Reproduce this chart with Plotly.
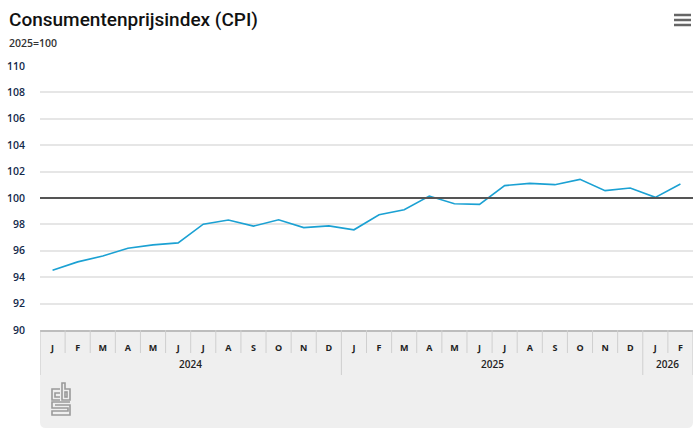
import plotly.graph_objects as go
import base64

# ---- data ----
months = ["J", "F", "M", "A", "M", "J", "J", "A", "S", "O", "N", "D",
          "J", "F", "M", "A", "M", "J", "J", "A", "S", "O", "N", "D",
          "J", "F"]
years = ["2024"] * 12 + ["2025"] * 12 + ["2026"] * 2
cpi = [94.52, 95.16, 95.61, 96.20, 96.45, 96.60, 98.02, 98.33, 97.87, 98.35, 97.76, 97.89,
       97.59, 98.73, 99.11, 100.15, 99.57, 99.52, 100.94, 101.11, 101.01, 101.41, 100.56, 100.76,
       100.05, 101.06]
y_ticks = [90, 92, 94, 96, 98, 100, 102, 104, 106, 108, 110]
base_value = 100

W, H = 695, 430
L, R, T, B = 40, 2, 66, 100
PW, PH = W - L - R, H - T - B


def px2x(px):
    return (px - L) / PW


def py2y(py):
    return (H - B - py) / PH


xs = list(range(len(cpi)))

fig = go.Figure()
fig.add_trace(go.Scatter(x=xs, y=cpi, mode="lines",
                         line=dict(color="#1ba1d3", width=1.6),
                         hoverinfo="skip", showlegend=False))

shapes = []
# gray box below the axis, rounded bottom corners
rx, ry = 6 / PW, 6 / PH
x0, x1, y0, y1 = 0, 1, 0, py2y(428)
path = (f"M {x0},{y0} L {x1},{y0} L {x1},{y1 + ry} Q {x1},{y1} {x1 - rx},{y1} "
        f"L {x0 + rx},{y1} Q {x0},{y1} {x0},{y1 + ry} Z")
shapes.append(dict(type="path", path=path, xref="paper", yref="paper",
                   fillcolor="#efefef", line=dict(width=0), layer="below"))
# month separators
for i in range(len(months) - 1):
    big = years[i] != years[i + 1]
    shapes.append(dict(type="line", xref="x", yref="paper", x0=i + 0.5, x1=i + 0.5,
                       y0=0, y1=py2y(375) if big else py2y(353),
                       line=dict(color="#cfcfcf", width=1)))
for xe in (-0.5, len(months) - 0.5):
    shapes.append(dict(type="line", xref="x", yref="paper", x0=xe, x1=xe,
                       y0=0, y1=py2y(375), line=dict(color="#c8c8c8", width=1)))
# baseline 100
shapes.append(dict(type="line", xref="paper", yref="y", x0=0, x1=1, y0=base_value, y1=base_value,
                   line=dict(color="#555555", width=2)))
# hamburger menu
for py in (15, 20, 25):
    shapes.append(dict(type="line", xref="paper", yref="paper", x0=px2x(674), x1=px2x(691),
                       y0=py2y(py), y1=py2y(py), line=dict(color="#666666", width=2.5)))

annotations = [
    dict(text="Consumentenprijsindex (CPI)", xref="paper", yref="paper",
         x=px2x(7), y=py2y(6), xanchor="left", yanchor="top", showarrow=False,
         font=dict(family="Roboto", size=19, color="#111111", weight=500)),
    dict(text="2025=100", xref="paper", yref="paper",
         x=px2x(7), y=py2y(34), xanchor="left", yanchor="top", showarrow=False,
         font=dict(family="Open Sans", size=10.5, color="#333333", weight=600)),
]
# year labels centered under their months
for yr in dict.fromkeys(years):
    idx = [i for i, v in enumerate(years) if v == yr]
    annotations.append(dict(text=yr, xref="x", yref="paper",
                            x=(idx[0] + idx[-1]) / 2, y=py2y(364), yanchor="middle",
                            showarrow=False,
                            font=dict(family="Open Sans", size=10, color="#222222", weight=600)))

# cbs logo as inline svg
svg = """<svg xmlns='http://www.w3.org/2000/svg' width='22' height='36' viewBox='0 0 22 36'>
<g fill='none' stroke='#9a9a9a' stroke-width='1.6'>
<path d='M10 8 H2 V19 H10'/><path d='M10 12 H5 V16 H10'/>
<path d='M12 2 V19 H20 V8 H15 V2 Z'/><rect x='15' y='11' width='2' height='5'/>
<path d='M20 21 H2 V27 H18 V30 H2 V34 H20 V24 H5'/>
</g></svg>"""
uri = "data:image/svg+xml;base64," + base64.b64encode(svg.encode()).decode()

fig.update_layout(
    width=W, height=H,
    margin=dict(l=L, r=R, t=T, b=B),
    paper_bgcolor="white", plot_bgcolor="white",
    shapes=shapes, annotations=annotations,
    images=[dict(source=uri, xref="paper", yref="paper", x=px2x(50), y=py2y(381),
                 sizex=22 / PW, sizey=36 / PH, xanchor="left", yanchor="top",
                 sizing="contain", layer="above")],
    xaxis=dict(range=[-0.5, len(months) - 0.5], tickmode="array", tickvals=xs, ticktext=months,
               showgrid=False, zeroline=False, showline=True, linecolor="#bdbdbd", linewidth=1.5,
               ticks="", ticklabelstandoff=8,
               tickfont=dict(family="Open Sans", size=9, color="#222222", weight=700),
               fixedrange=True),
    yaxis=dict(range=[90, 110], tickmode="array", tickvals=y_ticks,
               showgrid=True, gridcolor="#e6e6e6", gridwidth=1.5, zeroline=False,
               showline=False, ticks="", ticklabelstandoff=14,
               tickfont=dict(family="Open Sans", size=10.5, color="#13294b", weight=600),
               fixedrange=True),
)

fig.write_html("out.html", config={"displayModeBar": False},
               post_script="document.body.style.margin='0';document.body.style.padding='0';")
